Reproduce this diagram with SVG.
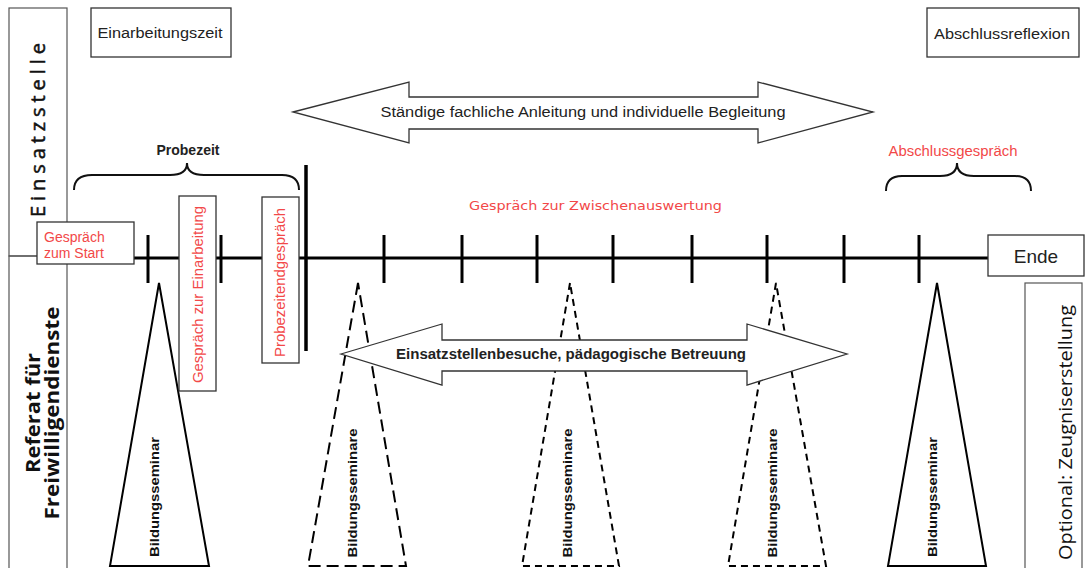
<svg xmlns="http://www.w3.org/2000/svg" width="1087" height="568" viewBox="0 0 1087 568">
<style>
.box{fill:#fff;stroke:#333;stroke-width:1.3}
.thin{fill:none;stroke:#555;stroke-width:1.2}
.lbl{font-family:"Liberation Sans",Arial,sans-serif;font-size:14px;fill:#222}
.red{font-family:"Liberation Sans",Arial,sans-serif;font-size:14px;fill:#f24848}
.redh{font-family:"DejaVu Sans","Open Sans",sans-serif;font-size:13px;fill:#f24848}
.side{font-family:"Open Sans","Noto Sans",sans-serif;font-size:20px;fill:#111}
.bs{font-family:"Liberation Sans",Arial,sans-serif;font-size:13px;font-weight:bold;fill:#111}
.tline{stroke:#000;stroke-width:3;fill:none}
.tick{stroke:#000;stroke-width:3}
.brace{fill:none;stroke:#111;stroke-width:2}
.tri{fill:none;stroke:#000;stroke-width:2}
.arrow{fill:#fff;stroke:#333;stroke-width:1.3}
</style>

<g id="lanes">
  <rect x="9" y="8" width="58" height="248" class="thin"/>
  <rect x="9" y="256" width="58" height="330" class="thin"/>
  <text class="side" style="stroke:#111;stroke-width:0.5" transform="translate(45,130) rotate(-90)" text-anchor="middle" textLength="174" lengthAdjust="spacing">Einsatzstelle</text>
  <text class="side" style="font-weight:bold" transform="translate(40,413) rotate(-90)" text-anchor="middle" textLength="120" lengthAdjust="spacingAndGlyphs">Referat für</text>
  <text class="side" style="font-weight:bold" transform="translate(59,413) rotate(-90)" text-anchor="middle" textLength="213" lengthAdjust="spacingAndGlyphs">Freiwilligendienste</text>
</g>

<g id="einarbeitungszeit">
  <rect x="91" y="8" width="140" height="49" class="box"/>
  <text class="lbl" x="160" y="38" text-anchor="middle" textLength="125" lengthAdjust="spacingAndGlyphs">Einarbeitungszeit</text>
</g>

<g id="abschlussreflexion">
  <rect x="927" y="8" width="152" height="49" class="box"/>
  <text class="lbl" x="1002" y="39" text-anchor="middle" textLength="136" lengthAdjust="spacingAndGlyphs">Abschlussreflexion</text>
</g>

<g id="seminare">
  <polygon class="tri" points="159,283 110,566 209,566"/>
  <text class="bs" transform="translate(159,497) rotate(-90)" text-anchor="middle" textLength="120" lengthAdjust="spacingAndGlyphs">Bildungsseminar</text>
  <polygon class="tri" points="358,283 308,566 406,566" stroke-dasharray="12 6"/>
  <text class="bs" transform="translate(357,493) rotate(-90)" text-anchor="middle" textLength="129" lengthAdjust="spacingAndGlyphs">Bildungsseminare</text>
  <polygon class="tri" points="570,283 522,566 619,566" stroke-dasharray="7 5"/>
  <text class="bs" transform="translate(572,493) rotate(-90)" text-anchor="middle" textLength="129" lengthAdjust="spacingAndGlyphs">Bildungsseminare</text>
  <polygon class="tri" points="776,283 728,566 826,566" stroke-dasharray="7 5"/>
  <text class="bs" transform="translate(777,493) rotate(-90)" text-anchor="middle" textLength="129" lengthAdjust="spacingAndGlyphs">Bildungsseminare</text>
  <polygon class="tri" points="937,283 888,566 986,566"/>
  <text class="bs" transform="translate(937,497) rotate(-90)" text-anchor="middle" textLength="120" lengthAdjust="spacingAndGlyphs">Bildungsseminar</text>
</g>

<g id="arrow-anleitung">
  <polygon class="arrow" points="293,112 409,82 409,97 758,97 758,82 873,112 758,143 758,129 409,129 409,143"/>
  <text class="lbl" x="583" y="117" text-anchor="middle" textLength="405" lengthAdjust="spacingAndGlyphs">Ständige fachliche Anleitung und individuelle Begleitung</text>
</g>

<g id="arrow-betreuung">
  <polygon class="arrow" points="341,354 442,324 442,340 747,340 747,324 847,354 747,385 747,371 442,371 442,385"/>
  <text class="lbl" style="font-weight:bold" x="571" y="359" text-anchor="middle" textLength="350" lengthAdjust="spacingAndGlyphs">Einsatzstellenbesuche, pädagogische Betreuung</text>
</g>

<g id="connectors">
  <line x1="134" y1="258" x2="988" y2="258" class="tline"/>
  <line x1="148" y1="235" x2="148" y2="283" class="tick"/>
  <line x1="221" y1="235" x2="221" y2="283" class="tick"/>
  <line x1="306" y1="165" x2="306" y2="351" class="tick" style="stroke-width:3.5"/>
  <line x1="384" y1="235" x2="384" y2="283" class="tick"/>
  <line x1="462" y1="235" x2="462" y2="283" class="tick"/>
  <line x1="537" y1="235" x2="537" y2="283" class="tick"/>
  <line x1="613" y1="235" x2="613" y2="283" class="tick"/>
  <line x1="692" y1="235" x2="692" y2="283" class="tick"/>
  <line x1="767" y1="235" x2="767" y2="283" class="tick"/>
  <line x1="844" y1="235" x2="844" y2="283" class="tick"/>
  <line x1="919" y1="235" x2="919" y2="283" class="tick"/>
</g>

<g id="probezeit">
  <path class="brace" d="M74,190 Q74,175 92,175 L170,175 Q187,175 187,163 Q187,175 204,175 L282,175 Q299,175 299,190"/>
  <text class="lbl" style="font-weight:bold;font-size:14px" x="188" y="155" text-anchor="middle">Probezeit</text>
</g>

<g id="abschlussgespraech">
  <path class="brace" d="M886,191 Q886,176 902,176 L940,176 Q957,176 957,163 Q957,176 974,176 L1015,176 Q1031,176 1031,191"/>
  <text class="red" x="953" y="156" text-anchor="middle" textLength="129" lengthAdjust="spacingAndGlyphs">Abschlussgespräch</text>
</g>

<g id="gespraech-start">
  <rect x="37" y="222" width="97" height="42" class="box"/>
  <text class="red" x="44" y="242">Gespräch</text>
  <text class="red" x="44" y="258">zum Start</text>
</g>

<g id="gespraech-einarbeitung">
  <rect x="179" y="196" width="37" height="195" class="box"/>
  <text class="red" transform="translate(203,294.5) rotate(-90)" text-anchor="middle" textLength="177" lengthAdjust="spacingAndGlyphs">Gespräch zur Einarbeitung</text>
</g>

<g id="probezeitendgespraech">
  <rect x="262" y="197" width="37" height="166" class="box"/>
  <text class="red" transform="translate(285,282.5) rotate(-90)" text-anchor="middle" textLength="149" lengthAdjust="spacingAndGlyphs">Probezeitendgespräch</text>
</g>

<g id="zwischenauswertung">
  <text class="redh" x="595.5" y="210" text-anchor="middle" textLength="253" lengthAdjust="spacingAndGlyphs">Gespräch zur Zwischenauswertung</text>
</g>

<g id="ende">
  <rect x="988" y="235" width="96" height="41" class="box"/>
  <text class="lbl" style="font-size:19px" x="1036" y="263" text-anchor="middle">Ende</text>
</g>

<g id="zeugnis">
  <rect x="1025" y="283" width="57" height="300" class="thin"/>
  <text class="side" style="font-size:19px" transform="translate(1072,432.5) rotate(-90)" text-anchor="middle" textLength="255" lengthAdjust="spacingAndGlyphs">Optional: Zeugniserstellung</text>
</g>
</svg>
